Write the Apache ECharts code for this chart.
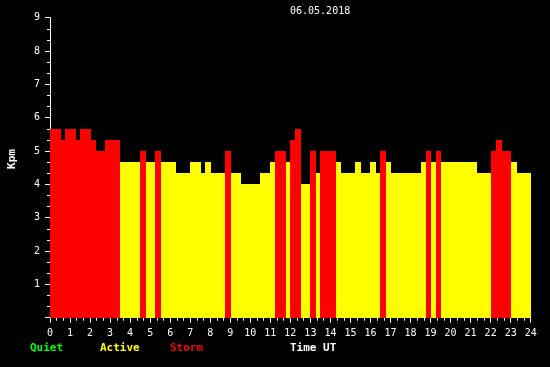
<!DOCTYPE html>
<html>
<head>
<meta charset="utf-8">
<script src="https://cdn.jsdelivr.net/npm/echarts@6/dist/echarts.min.js"></script>
<style>html,body{margin:0;padding:0;background:#000;}#c{width:550px;height:367px;}</style>
</head>
<body>
<div id="c"></div>
<script>
// Segment start/end times (hours UT) and Kpm values
var segStart = [0, 0.55, 0.75, 1.3, 1.5, 2.05, 2.3, 2.75, 3.5, 4.5, 4.775, 5.25, 5.525, 6.3, 7.0, 7.55, 7.75, 8.05, 8.75, 9.025, 9.55, 10.5, 11.0, 11.25, 11.775, 12.0, 12.25, 12.525, 13.0, 13.275, 13.5, 14.275, 14.55, 15.25, 15.55, 16.0, 16.3, 16.5, 16.775, 17.05, 18.5, 18.75, 19.0, 19.25, 19.525, 21.3, 22.0, 22.25, 22.55, 23.025, 23.3];
var segEnd   = [0.55, 0.75, 1.3, 1.5, 2.05, 2.3, 2.75, 3.5, 4.5, 4.775, 5.25, 5.525, 6.3, 7.0, 7.55, 7.75, 8.05, 8.75, 9.025, 9.55, 10.5, 11.0, 11.25, 11.775, 12.0, 12.25, 12.525, 13.0, 13.275, 13.5, 14.275, 14.55, 15.25, 15.55, 16.0, 16.3, 16.5, 16.775, 17.05, 18.5, 18.75, 19.0, 19.25, 19.525, 21.3, 22.0, 22.25, 22.55, 23.025, 23.3, 24.0];
var kpm      = [5.67, 5.33, 5.67, 5.33, 5.67, 5.33, 5.0, 5.33, 4.67, 5.0, 4.67, 5.0, 4.67, 4.33, 4.67, 4.33, 4.67, 4.33, 5.0, 4.33, 4.0, 4.33, 4.67, 5.0, 4.67, 5.33, 5.67, 4.0, 5.0, 4.33, 5.0, 4.67, 4.33, 4.67, 4.33, 4.67, 4.33, 5.0, 4.67, 4.33, 4.67, 5.0, 4.67, 5.0, 4.67, 4.33, 5.0, 5.33, 5.0, 4.67, 4.33];
var dateLabel = '06.05.2018';
var legendNames = ['Quiet', 'Active', 'Storm'];
var legendColors = ['#00ff00', '#ffff00', '#ff0000'];

function levelColor(v) {
  if (v >= 4.99) return legendColors[2];
  if (v >= 3.99) return legendColors[1];
  return legendColors[0];
}

var data = segStart.map(function (s, i) { return [s, segEnd[i], kpm[i]]; });

var chart = echarts.init(document.getElementById('c'), null, {renderer: 'canvas'});
var mono = 'DejaVu Sans Mono';
chart.setOption({
  backgroundColor: '#000',
  animation: false,
  grid: {left: 50, right: 19.3, top: 17.7, bottom: 49.3, containLabel: false},
  xAxis: {
    type: 'value', min: 0, max: 24, interval: 1,
    axisLine: {lineStyle: {color: '#fff', width: 1}},
    axisTick: {show: true, length: 5, lineStyle: {color: '#fff'}},
    minorTick: {show: true, splitNumber: 3, length: 3, lineStyle: {color: '#fff'}},
    axisLabel: {color: '#fff', fontFamily: mono, fontSize: 10, margin: 11},
    splitLine: {show: false}
  },
  yAxis: {
    type: 'value', min: 0, max: 9, interval: 1,
    axisLine: {show: true, lineStyle: {color: '#fff', width: 1}},
    axisTick: {show: true, length: 5, lineStyle: {color: '#fff'}},
    minorTick: {show: true, splitNumber: 3, length: 3, lineStyle: {color: '#fff'}},
    axisLabel: {color: '#fff', fontFamily: mono, fontSize: 10, margin: 10,
      formatter: function (v) { return v === 0 ? '' : String(v); }},
    splitLine: {show: false}
  },
  series: [{
    type: 'custom',
    data: data,
    encode: {x: [0, 1], y: 2},
    z: 1,
    renderItem: function (params, api) {
      var v = api.value(2);
      var p0 = api.coord([api.value(0), v]);
      var p1 = api.coord([api.value(1), 0]);
      var x0 = Math.round(p0[0]), x1 = Math.round(p1[0]);
      var y0 = Math.round(p0[1]), y1 = Math.round(p1[1]);
      return {
        type: 'rect',
        shape: {x: x0, y: y0, width: x1 - x0, height: y1 - y0},
        style: {fill: levelColor(v), stroke: null}
      };
    }
  }],
  graphic: [
    {type: 'text', left: 290, top: 6, style: {text: dateLabel, fill: '#fff', font: '10px ' + mono}},
    {type: 'text', x: 12, y: 159, rotation: Math.PI / 2,
      style: {text: 'Kpm', fill: '#fff', font: 'bold 11px ' + mono, align: 'center', verticalAlign: 'middle'}},
    {type: 'text', left: 30, top: 343, style: {text: legendNames[0], fill: legendColors[0], font: 'bold 11px ' + mono}},
    {type: 'text', left: 100, top: 343, style: {text: legendNames[1], fill: legendColors[1], font: 'bold 11px ' + mono}},
    {type: 'text', left: 170, top: 343, style: {text: legendNames[2], fill: legendColors[2], font: 'bold 11px ' + mono}},
    {type: 'text', left: 290, top: 343, style: {text: 'Time UT', fill: '#fff', font: 'bold 11px ' + mono}}
  ]
});
</script>
</body>
</html>
